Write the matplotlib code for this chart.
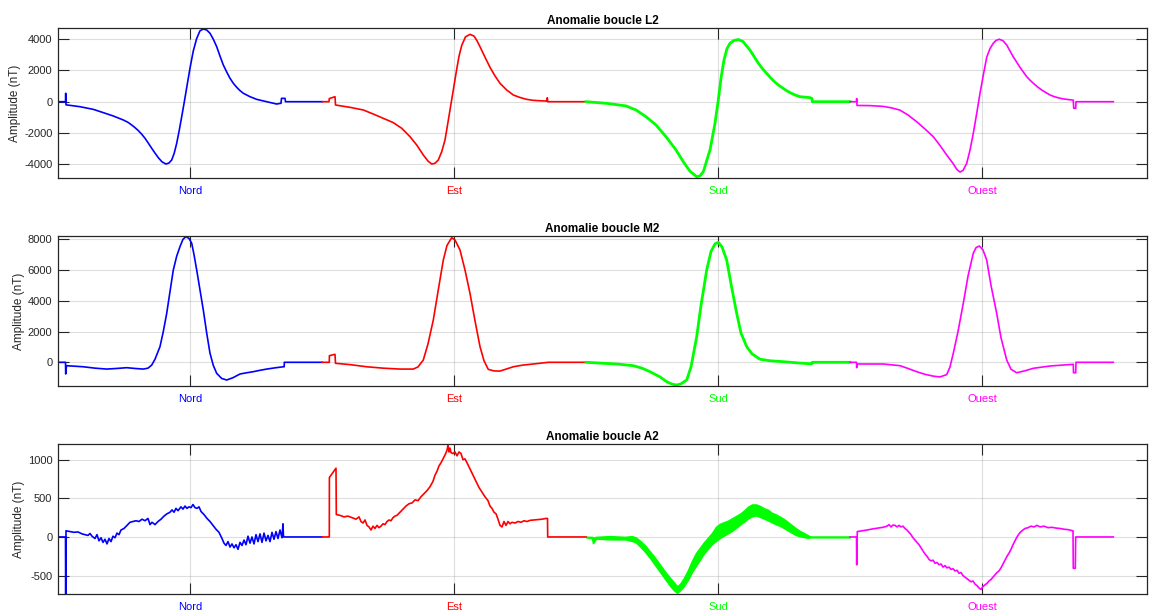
#!/usr/bin/env python3
from matplotlib import pyplot as plt
import numpy as np

plt.rcParams['font.family'] = ['Liberation Sans', 'DejaVu Sans']
plt.rcParams['axes.unicode_minus'] = False

# directions et couleurs
directions = ["Nord", "Est", "Sud", "Ouest"]
colors = [(0, 0, 1), (1, 0, 0), (0, 1, 0), (1, 0, 1)]
tick_pos = [1320, 3960, 6600, 9240]
n_samples = 10890

# ---- boucle L2 : (echantillon, nT)
l2_nord = [(0, 0), (75, 0), (77, 540), (80, -200), (220, -320), (353, -490), (453, -700), (553, -915),
           (653, -1170), (700, -1320), (737, -1490), (770, -1660), (803, -1850), (837, -2080), (870, -2340),
           (903, -2650), (937, -2980), (970, -3290), (1003, -3580), (1040, -3850), (1080, -3990),
           (1110, -3920), (1137, -3730), (1162, -3300), (1187, -2660), (1212, -1850), (1237, -960),
           (1262, -50), (1287, 900), (1320, 2150), (1353, 3250), (1387, 4050), (1420, 4540), (1453, 4650),
           (1487, 4590), (1520, 4380), (1553, 4000), (1587, 3520), (1620, 2920), (1653, 2350), (1687, 1900),
           (1720, 1500), (1753, 1180), (1787, 920), (1820, 710), (1853, 540), (1920, 320), (1987, 150),
           (2087, 0), (2187, -150), (2230, -100), (2235, 215), (2270, 215), (2275, 0), (2640, 0)]
l2_est = [(2640, 0), (2710, 0), (2713, 200), (2770, 320), (2775, -211), (2920, -360), (3053, -530),
          (3153, -790), (3253, -1065), (3353, -1340), (3437, -1700), (3520, -2240), (3587, -2770),
          (3653, -3410), (3700, -3800), (3737, -3990), (3770, -3940), (3803, -3730), (3837, -3200),
          (3870, -2450), (3895, -1500), (3920, -530), (3953, 750), (3985, 2000), (4010, 2900), (4037, 3600),
          (4075, 4150), (4120, 4310), (4160, 4200), (4190, 3900), (4220, 3520), (4270, 2850), (4320, 2200),
          (4370, 1650), (4420, 1180), (4487, 750), (4553, 430), (4620, 270), (4687, 150), (4750, 90),
          (4820, 60), (4890, 40), (4893, 250), (4897, 0), (5280, 0)]
l2_sud = [(5280, 0), (5480, -100), (5680, -270), (5780, -530), (5880, -960), (5980, -1490), (6080, -2240),
          (6180, -3090), (6263, -3940), (6320, -4450), (6387, -4800), (6420, -4750), (6453, -4480),
          (6520, -3090), (6570, -1380), (6603, 110), (6630, 1500), (6660, 2670), (6690, 3400), (6720, 3740),
          (6760, 3920), (6803, 3980), (6850, 3850), (6920, 3300), (6960, 2900), (7000, 2500), (7040, 2150),
          (7087, 1810), (7130, 1500), (7170, 1250), (7210, 1040), (7253, 850), (7290, 690), (7330, 550),
          (7375, 420), (7420, 320), (7520, 260), (7540, 200), (7543, 0), (7920, 0)]
l2_ouest = [(7920, 0), (7985, 0), (7987, 200), (7990, -240), (8120, -250), (8253, -300), (8340, -400),
            (8420, -540), (8500, -850), (8587, -1280), (8670, -1750), (8753, -2240), (8820, -2800),
            (8887, -3410), (8950, -3950), (8990, -4350), (9020, -4500), (9050, -4400), (9087, -3950),
            (9120, -3100), (9153, -2020), (9187, -750), (9220, 530), (9253, 1700), (9287, 2840), (9320, 3400),
            (9353, 3740), (9380, 3920), (9413, 4000), (9450, 3900), (9487, 3630), (9550, 2900), (9585, 2550),
            (9620, 2200), (9687, 1600), (9720, 1380), (9753, 1180), (9795, 950), (9837, 750), (9880, 580),
            (9920, 430), (9960, 330), (10003, 250), (10045, 190), (10087, 150), (10153, 100), (10157, -420),
            (10177, -420), (10180, 0), (10553, 0)]

# ---- boucle M2
m2_nord = [(0, 0), (75, 0), (77, -760), (85, -220), (253, -290), (370, -380), (487, -440), (587, -400),
           (687, -350), (770, -400), (853, -440), (900, -380), (937, -180), (970, 200), (1020, 1020),
           (1053, 2000), (1087, 3180), (1120, 4600), (1153, 6000), (1187, 6900), (1220, 7520), (1250, 8000),
           (1280, 8170), (1310, 8050), (1337, 7740), (1360, 7000), (1387, 6000), (1420, 4700), (1453, 3400),
           (1487, 1900), (1520, 590), (1553, -200), (1587, -720), (1637, -1050), (1687, -1150),
           (1750, -1000), (1820, -760), (1887, -680), (1953, -610), (2020, -520), (2087, -440),
           (2170, -360), (2253, -290), (2262, -290), (2263, 0), (2640, 0)]
m2_est = [(2640, 0), (2713, 0), (2714, 430), (2770, 520), (2775, -65), (2920, -150), (3087, -290),
          (3250, -380), (3420, -440), (3553, -440), (3600, -300), (3653, 150), (3700, 1200), (3753, 2750),
          (3800, 4600), (3853, 6650), (3890, 7600), (3937, 8100), (3970, 7950), (4020, 7300), (4070, 6000),
          (4120, 4480), (4170, 2700), (4220, 1020), (4260, 100), (4303, -460), (4360, -560), (4420, -570),
          (4487, -430), (4553, -290), (4650, -180), (4753, -110), (4903, 0), (5280, 0)]
m2_sud = [(5280, 0), (5587, -110), (5753, -220), (5840, -380), (5920, -610), (6020, -950), (6087, -1260),
          (6140, -1420), (6187, -1475), (6230, -1400), (6287, -1150), (6330, -300), (6387, 1670), (6430, 3700),
          (6487, 6000), (6530, 7200), (6570, 7700), (6603, 7800), (6640, 7500), (6687, 6650), (6730, 5100),
          (6787, 3180), (6830, 1900), (6887, 1020), (6940, 550), (7020, 200), (7120, 100), (7253, 40),
          (7420, -50), (7537, -100), (7543, 0), (7920, 0)]
m2_ouest = [(7920, 0), (7985, 0), (7987, -350), (7990, -110), (8253, -110), (8420, -220), (8500, -400),
            (8587, -610), (8670, -780), (8753, -900), (8820, -950), (8887, -800), (8920, -300), (8953, 590),
            (9000, 2000), (9053, 3840), (9100, 5600), (9153, 7090), (9180, 7450), (9213, 7560), (9250, 7300),
            (9287, 6650), (9330, 5000), (9387, 3180), (9430, 1600), (9487, 150), (9530, -450), (9587, -680),
            (9670, -550), (9753, -390), (9920, -240), (10153, -130), (10155, -680), (10177, -680),
            (10180, 0), (10553, 0)]

# ---- boucle A2
a2_nord = [(0, 0), (75, 0), (77, -800), (80, 80), (120, 70), (160, 60), (200, 65), (240, 40), (270, 30),
           (300, 20), (320, 45), (340, 10), (370, -20), (390, 30), (410, -50), (430, -10), (450, -70),
           (470, -30), (490, -90), (510, -20), (530, -60), (550, 10), (570, -10), (590, 50), (610, 30),
           (630, 90), (660, 110), (690, 150), (720, 190), (750, 200), (780, 210), (810, 200), (840, 230),
           (870, 210), (900, 240), (920, 160), (940, 190), (970, 160), (1000, 200), (1030, 230), (1060, 270),
           (1090, 300), (1120, 320), (1140, 350), (1160, 320), (1180, 370), (1200, 340), (1230, 390),
           (1250, 360), (1270, 400), (1290, 370), (1310, 390), (1330, 380), (1350, 420), (1370, 380),
           (1390, 370), (1410, 390), (1430, 330), (1460, 290), (1490, 240), (1520, 200), (1550, 150),
           (1580, 100), (1610, 60), (1640, -20), (1660, -80), (1680, -110), (1700, -60), (1720, -130),
           (1740, -90), (1760, -140), (1780, -100), (1800, -160), (1820, -70), (1840, -110), (1860, -40),
           (1880, -100), (1900, 10), (1920, -80), (1940, 0), (1960, -90), (1980, 30), (2000, -60),
           (2020, 40), (2040, -70), (2060, 50), (2080, -50), (2100, 20), (2120, -60), (2140, 60),
           (2160, -30), (2180, 70), (2200, -20), (2220, 90), (2240, -10), (2250, 170), (2255, 0), (2640, 0)]
a2_est = [(2640, 0), (2713, 0), (2714, 770), (2780, 890), (2783, 290), (2820, 280), (2860, 260), (2900, 270),
          (2940, 250), (2980, 230), (3010, 260), (3030, 200), (3050, 180), (3070, 220), (3090, 150),
          (3110, 130), (3130, 90), (3150, 140), (3170, 110), (3190, 150), (3210, 120), (3230, 140),
          (3250, 170), (3270, 160), (3290, 200), (3310, 220), (3330, 210), (3350, 250), (3370, 270),
          (3390, 280), (3420, 320), (3450, 360), (3480, 400), (3510, 430), (3540, 440), (3570, 480),
          (3600, 470), (3630, 520), (3660, 560), (3690, 600), (3720, 650), (3750, 720), (3770, 800),
          (3790, 850), (3810, 920), (3830, 960), (3850, 1010), (3870, 1060), (3890, 1120), (3900, 1190),
          (3910, 1100), (3920, 1150), (3930, 1090), (3950, 1080), (3970, 1100), (3990, 1050), (4010, 1100),
          (4030, 1080), (4050, 1000), (4070, 1010), (4090, 960), (4120, 880), (4150, 800), (4180, 720),
          (4210, 640), (4240, 580), (4270, 520), (4300, 470), (4320, 400), (4340, 370), (4360, 320),
          (4380, 300), (4400, 230), (4420, 150), (4440, 130), (4460, 200), (4480, 150), (4500, 200),
          (4520, 170), (4540, 190), (4570, 180), (4600, 200), (4630, 190), (4660, 210), (4690, 200),
          (4720, 215), (4760, 220), (4800, 225), (4840, 230), (4880, 240), (4895, 240), (4897, 0), (5280, 0)]
# Sud A2 : signal tres bruite, enveloppe (echantillon, min, max)
a2_sud = [(5280, 0, 0), (5340, -10, 0), (5350, -80, -10), (5380, -20, 0), (5520, -30, 10), (5670, -30, 0),
          (5740, -50, 10), (5780, -70, -10), (5820, -120, -50), (5870, -190, -110), (5920, -270, -190),
          (5970, -360, -270), (6020, -450, -360), (6070, -540, -450), (6120, -630, -530), (6160, -690, -590),
          (6190, -720, -640), (6220, -690, -610), (6260, -630, -530), (6300, -550, -430), (6340, -450, -310),
          (6380, -370, -210), (6420, -290, -140), (6460, -210, -70), (6500, -150, -10), (6540, -90, 50),
          (6580, -50, 130), (6620, -10, 170), (6660, 20, 190), (6700, 50, 210), (6740, 80, 240),
          (6780, 120, 270), (6820, 160, 300), (6860, 200, 340), (6900, 240, 390), (6940, 270, 420),
          (6980, 280, 420), (7020, 260, 400), (7060, 240, 370), (7100, 215, 350), (7140, 190, 310),
          (7180, 165, 290), (7220, 145, 260), (7260, 115, 230), (7300, 85, 190), (7340, 55, 150),
          (7380, 25, 110), (7420, 10, 75), (7460, 0, 50), (7500, -10, 20), (7530, 0, 0), (7920, 0, 0)]
a2_ouest = [(7920, 0), (7985, 0), (7987, -360), (7993, 70), (8040, 80), (8090, 90), (8150, 105), (8200, 115),
            (8250, 125), (8290, 140), (8310, 160), (8330, 130), (8350, 155), (8370, 150), (8390, 130),
            (8410, 150), (8430, 130), (8450, 140), (8470, 110), (8490, 90), (8510, 60), (8530, 30),
            (8550, -10), (8570, -40), (8590, -70), (8610, -100), (8630, -140), (8650, -180), (8670, -220),
            (8690, -250), (8710, -290), (8730, -310), (8750, -300), (8770, -340), (8790, -330), (8810, -360),
            (8830, -350), (8850, -390), (8870, -370), (8890, -400), (8910, -390), (8930, -420), (8950, -410),
            (8970, -440), (8990, -430), (9010, -470), (9030, -460), (9050, -500), (9070, -520), (9090, -540),
            (9110, -560), (9130, -580), (9150, -570), (9170, -610), (9190, -630), (9210, -660), (9230, -680),
            (9250, -640), (9270, -620), (9290, -600), (9310, -570), (9330, -550), (9350, -520), (9370, -490),
            (9390, -460), (9410, -440), (9430, -400), (9450, -350), (9470, -300), (9490, -250), (9510, -210),
            (9530, -160), (9550, -100), (9570, -50), (9590, 0), (9610, 40), (9630, 70), (9650, 90),
            (9670, 110), (9700, 120), (9730, 140), (9760, 130), (9790, 150), (9820, 130), (9860, 140),
            (9900, 120), (9940, 125), (9980, 115), (10020, 110), (10060, 100), (10100, 95), (10150, 80),
            (10153, -405), (10173, -405), (10177, 0), (10553, 0)]

AX_COLOR = (0.15, 0.15, 0.15)


def setup_axes(ax, title, ylim, yticks):
    ax.set_xlim(0, n_samples)
    ax.set_ylim(ylim)
    ax.set_yticks(yticks)
    ax.set_xticks(tick_pos)
    ax.set_xticklabels(directions)
    ax.tick_params(direction='in', length=8, width=0.8, top=True, right=True,
                   labelsize=8, colors=AX_COLOR, pad=4)
    ax.tick_params(axis='x', pad=6)
    for lab, c in zip(ax.get_xticklabels(), colors):
        lab.set_color(c)
    for s in ax.spines.values():
        s.set_color(AX_COLOR)
        s.set_linewidth(0.9)
    ax.grid(True, color=AX_COLOR, alpha=0.15, linewidth=0.8)
    ax.set_axisbelow(True)
    ax.set_title(title, fontsize=8.5, fontweight='bold', color='black', pad=3)
    ax.set_ylabel("Amplitude (nT)", fontsize=8.5, color=AX_COLOR, labelpad=2)


def plot_series(ax, series, widths):
    for data, c, lw in zip(series, colors, widths):
        arr = np.array(data, dtype=float)
        if arr.shape[1] == 3:
            ax.fill_between(arr[:, 0], arr[:, 1], arr[:, 2], color=c, linewidth=1.2)
        else:
            ax.plot(arr[:, 0], arr[:, 1], color=c, linewidth=lw)


fig = plt.figure(figsize=(11.55, 6.12), dpi=100)
left, width, height = 58 / 1155, 1089 / 1155, 150 / 612

ax1 = fig.add_axes([left, 1 - 178 / 612, width, height])
plot_series(ax1, [l2_nord, l2_est, l2_sud, l2_ouest], [1.2, 1.2, 2.0, 1.2])
setup_axes(ax1, "Anomalie boucle L2", (-4883, 4717), [-4000, -2000, 0, 2000, 4000])

ax2 = fig.add_axes([left, 1 - 386 / 612, width, height])
plot_series(ax2, [m2_nord, m2_est, m2_sud, m2_ouest], [1.2, 1.2, 2.0, 1.2])
setup_axes(ax2, "Anomalie boucle M2", (-1540, 8210), [0, 2000, 4000, 6000, 8000])

ax3 = fig.add_axes([left, 1 - 594 / 612, width, height])
plot_series(ax3, [a2_nord, a2_est, a2_sud, a2_ouest], [1.2, 1.2, 1.2, 1.2])
setup_axes(ax3, "Anomalie boucle A2", (-738, 1203), [-500, 0, 500, 1000])

fig.savefig("out.png", dpi=100)
plt.close(fig)
